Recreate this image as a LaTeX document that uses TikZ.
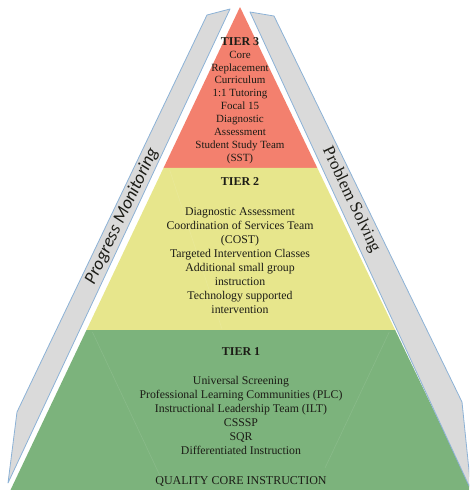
\documentclass[tikz,border=0pt]{standalone}
\usepackage{fontspec}
\setmainfont{Liberation Serif}
\newfontfamily\bandsans{Carlito}
\usetikzlibrary{calc,positioning}

\definecolor{tierred}{RGB}{243,128,110}
\definecolor{tieryellow}{RGB}{231,230,140}
\definecolor{tiergreen}{RGB}{124,179,124}
\definecolor{bandgray}{RGB}{218,218,218}
\definecolor{bandblue}{RGB}{140,178,214}
\definecolor{tiertext}{RGB}{28,28,22}

\begin{document}
\begin{tikzpicture}[x=1pt, y=-1pt]

\tikzstyle{band} = [fill=bandgray, draw=bandblue, line width=0.8pt, line join=round]
\tikzstyle{ghost} = [white, opacity=0.1, line width=0.6pt]
\tikzstyle{head} = [inner sep=0pt, text=tiertext, font=\fontsize{12}{14}\selectfont\bfseries]
\tikzstyle{items} = [inner sep=0pt, align=center, text=tiertext, font=\fontsize{11.8}{14}\selectfont]
\tikzstyle{bandlabel} = [inner sep=0pt, text=tiertext]

\useasboundingbox (0,0) rectangle (469,490);
\clip (0,0) rectangle (469,490);

% pyramid corners and tier borders
\coordinate (apex) at (240,7);
\coordinate (bl) at (10.5,490);
\coordinate (br) at (472,490);
\coordinate (l3) at ($(apex)!0.333!(bl)$);
\coordinate (r3) at ($(apex)!0.333!(br)$);
\coordinate (l2) at ($(apex)!0.669!(bl)$);
\coordinate (r2) at ($(apex)!0.669!(br)$);

\fill[tierred] (apex) -- (r3) -- (l3) -- cycle;
\fill[tieryellow] (l3) -- (r3) -- (r2) -- (l2) -- cycle;
\fill[tiergreen] (l2) -- (r2) -- (br) -- (bl) -- cycle;

% faint hidden edges
\draw[ghost] ($(l3)+(6,2)$) -- (222,329);
\draw[ghost] ($(l2)+(6,2)$) -- (162,480);
\draw[ghost] ($(r2)+(-6,2)$) -- (325,468);

% side bands
\draw[band] (207,15) -- (230,9) -- (8,483) -- (17,412) -- cycle;
\draw[band] (250,12) -- (274,16) -- (462,402) -- (471,490) -- cycle;

\node (t3h) [head] at (240,42) {TIER 3};
\node (t3) [items, font=\fontsize{11}{12.9}\selectfont] at (240,107.3) {Core\\Replacement\\Curriculum\\1:1 Tutoring\\Focal 15\\Diagnostic\\Assessment\\Student Study Team\\(SST)};

\node (t2h) [head] at (240,182) {TIER 2};
\node (t2) [items] at (240,260.5) {Diagnostic Assessment\\Coordination of Services Team\\(COST)\\Targeted Intervention Classes\\Additional small group\\instruction\\Technology supported\\intervention};

\node (t1h) [head] at (241,352) {TIER 1};
\node (t1) [items] at (241,415.5) {Universal Screening\\Professional Learning Communities (PLC)\\Instructional Leadership Team (ILT)\\CSSSP\\SQR\\Differentiated Instruction};
\node (core) [items, font=\fontsize{12}{14}\selectfont] at (241,481) {QUALITY CORE INSTRUCTION};

\node (pm) [bandlabel, rotate=64.5, font=\bandsans\itshape\fontsize{18}{20}\selectfont] at (122,216) {Progress Monitoring};
\node (ps) [bandlabel, rotate=-64.5, font=\fontsize{17}{20}\selectfont] at (351,200) {Problem Solving};
\end{tikzpicture}
\end{document}
